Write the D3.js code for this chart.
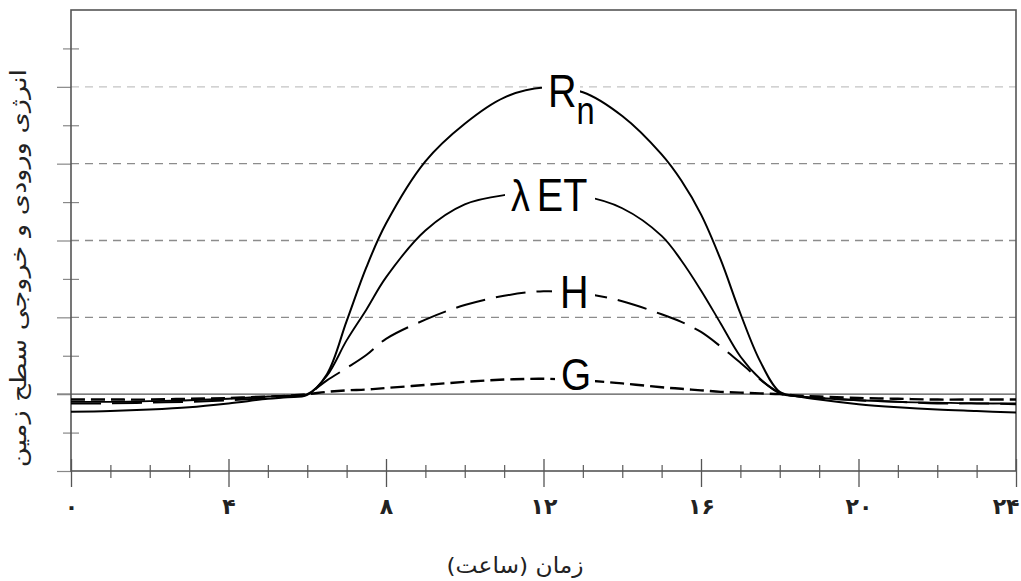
<!DOCTYPE html>
<html>
<head>
<meta charset="utf-8">
<script src="https://cdn.jsdelivr.net/npm/d3@7"></script>
<style>
  html, body { margin: 0; padding: 0; background: #fff; }
  svg { display: block; }
</style>
</head>
<body>
<svg id="chart" width="1021" height="581"></svg>
<script>
// Diurnal surface energy balance: net radiation and its partition (hour of day vs. flux)
const hours = [0, 1, 2, 3, 4, 5, 5.5, 6, 6.5, 7, 7.5, 8, 9, 10, 11, 12, 13, 14, 15,
               15.5, 16, 16.5, 17, 17.5, 18, 18.5, 19, 20, 21, 22, 23, 24];
const rnValues  = [-23, -22, -20, -17, -12, -6, -4, -1, 26, 95, 165, 222, 303, 352, 386, 399, 393, 362, 312,
                   278, 234, 175, 105, 43, 3, -3, -7, -13, -17, -20, -22, -24];
const letValues = [-10, -10, -9, -8, -6, -3, -2, 0, 24, 70, 110, 152, 213, 247, 259, 262, 258, 242, 206,
                   174, 135, 92, 49, 20, 1, -3, -5, -8, -10, -11, -12, -12];
const hValues   = [-12, -12, -11, -10, -8, -5, -3, 0, 18, 34, 51, 72, 97, 116, 128, 134, 131, 121, 104,
                   94, 81, 62, 41, 19, 2, -3, -5, -8, -10, -12, -12, -13];
const gValues   = [-7, -7, -7, -6, -5, -3, -2, 0, 3, 5, 6, 8, 12, 16, 19, 20, 18, 14, 9,
                   7, 5, 3, 2, 1, 0, -2, -3, -5, -6, -7, -7, -7];

const tickHours = [0, 4, 8, 12, 16, 20, 24];
const tickLabels = ["۰", "۴", "۸", "۱۲", "۱۶", "۲۰", "۲۴"];
const minorHours = d3.range(0, 25, 1);
const fluxMajor = [-100, 0, 100, 200, 300, 400];
const fluxMinor = [-50, 50, 150, 250, 350, 450];
const gridValues = [100, 200, 300, 400];

const xTitle = "زمان (ساعت)";
const yTitle = "انرژی ورودی و خروجی سطح زمین";

const svg = d3.select("#chart");
const x = d3.scaleLinear().domain([0, 24]).range([71, 1016]);
const y = d3.scaleLinear().domain([-100, 500]).range([471, 10]);

// horizontal dashed grid
svg.append("g").selectAll("line").data(gridValues).join("line")
  .attr("x1", x(0)).attr("x2", x(24))
  .attr("y1", d => y(d)).attr("y2", d => y(d))
  .attr("stroke", d => d === 400 ? "#c4c4c4" : "#8c8c8c")
  .attr("stroke-width", 1.3)
  .attr("stroke-dasharray", "8,6");

// zero line
svg.append("line")
  .attr("x1", x(0) - 14).attr("x2", x(24))
  .attr("y1", y(0)).attr("y2", y(0))
  .attr("stroke", "#555").attr("stroke-width", 1.4);

// left axis ticks (major outside, minor across)
const leftMajor = svg.append("g").attr("transform", `translate(${x(0)},0)`)
  .call(d3.axisLeft(y).tickValues(fluxMajor).tickSize(14).tickFormat(""));
leftMajor.select(".domain").remove();
leftMajor.selectAll("line").attr("stroke", "#888").attr("stroke-width", 1.2);
const leftMinor = svg.append("g").attr("transform", `translate(${x(0) + 8},0)`)
  .call(d3.axisLeft(y).tickValues(fluxMinor).tickSize(16).tickFormat(""));
leftMinor.select(".domain").remove();
leftMinor.selectAll("line").attr("stroke", "#888").attr("stroke-width", 1.2);

// bottom axis ticks and labels
const bottomMinor = svg.append("g").attr("transform", `translate(0,${y(-100) - 6})`)
  .call(d3.axisBottom(x).tickValues(minorHours.filter(h => h % 4 !== 0)).tickSize(13).tickFormat(""));
bottomMinor.select(".domain").remove();
bottomMinor.selectAll("line").attr("stroke", "#666").attr("stroke-width", 1.3);

const bottomMajor = svg.append("g").attr("transform", `translate(0,${y(-100) - 12})`)
  .call(d3.axisBottom(x).tickValues(tickHours).tickSize(28)
        .tickFormat((d, i) => tickLabels[i]));
bottomMajor.select(".domain").remove();
bottomMajor.selectAll("line").attr("stroke", "#555").attr("stroke-width", 1.3);
bottomMajor.selectAll("text")
  .attr("y", 39)
  .attr("font-family", "DejaVu Sans")
  .attr("font-size", 22)
  .attr("font-weight", "bold")
  .attr("fill", "#222")
  .attr("text-anchor", d => d === 24 ? "end" : "middle")
  .attr("dx", d => d === 24 ? 3 : 0);

// frame
svg.append("rect")
  .attr("x", x(0)).attr("y", y(500))
  .attr("width", x(24) - x(0)).attr("height", y(-100) - y(500))
  .attr("fill", "none").attr("stroke", "#555").attr("stroke-width", 1.6);

// curves
const line = d3.line().x(d => x(d[0])).y(d => y(d[1])).curve(d3.curveCatmullRom.alpha(0.5));
const series = [
  { name: "Rn",  values: rnValues,  dash: null,    width: 2.0 },
  { name: "LET", values: letValues, dash: null,    width: 1.9 },
  { name: "H",   values: hValues,   dash: "30,11", width: 2.0 },
  { name: "G",   values: gValues,   dash: "14,6",  width: 2.4 }
];
svg.append("g").selectAll("path").data(series).join("path")
  .attr("d", s => line(hours.map((h, i) => [h, s.values[i]])))
  .attr("fill", "none")
  .attr("stroke", "#000")
  .attr("stroke-width", s => s.width)
  .attr("stroke-dasharray", s => s.dash);

// curve labels, each on a white patch that breaks its curve
const labels = svg.append("g").attr("font-family", "Liberation Sans, Arial, sans-serif").attr("fill", "#000");
function label(parts, x0, baseline, gapLeft, gapRight) {
  const g = labels.append("g");
  g.append("rect").attr("fill", "#fff")
    .attr("x", gapLeft).attr("y", baseline - 38)
    .attr("width", gapRight - gapLeft).attr("height", 39);
  const t = g.append("text").attr("transform", `translate(${x0},${baseline}) scale(0.86,1)`);
  parts.forEach(p => {
    const ts = t.append("tspan").text(p.text).attr("font-size", p.size);
    if (p.dx !== undefined) ts.attr("dx", p.dx);
    if (p.dy !== undefined) ts.attr("dy", p.dy);
  });
}
label([{ text: "R", size: 46 }, { text: "n", size: 38, dy: 17 }], 548, 107, 542, 580);
label([{ text: "λ", size: 44 }, { text: "ET", size: 46, dx: 8 }], 511, 211, 505, 595);
label([{ text: "H", size: 46 }], 560, 308, 552, 595);
label([{ text: "G", size: 45 }], 561, 390, 555, 595);

// axis titles
svg.append("text")
  .attr("transform", "translate(515,573) scale(1.06,1)")
  .attr("text-anchor", "middle")
  .attr("direction", "rtl")
  .attr("font-family", "DejaVu Sans")
  .attr("font-size", 22)
  .attr("fill", "#222")
  .text(xTitle);

svg.append("text")
  .attr("transform", "translate(26,268) rotate(-90) scale(1.24,1)")
  .attr("text-anchor", "middle")
  .attr("direction", "rtl")
  .attr("font-family", "DejaVu Sans")
  .attr("font-size", 22)
  .attr("fill", "#222")
  .text(yTitle);
</script>
</body>
</html>
